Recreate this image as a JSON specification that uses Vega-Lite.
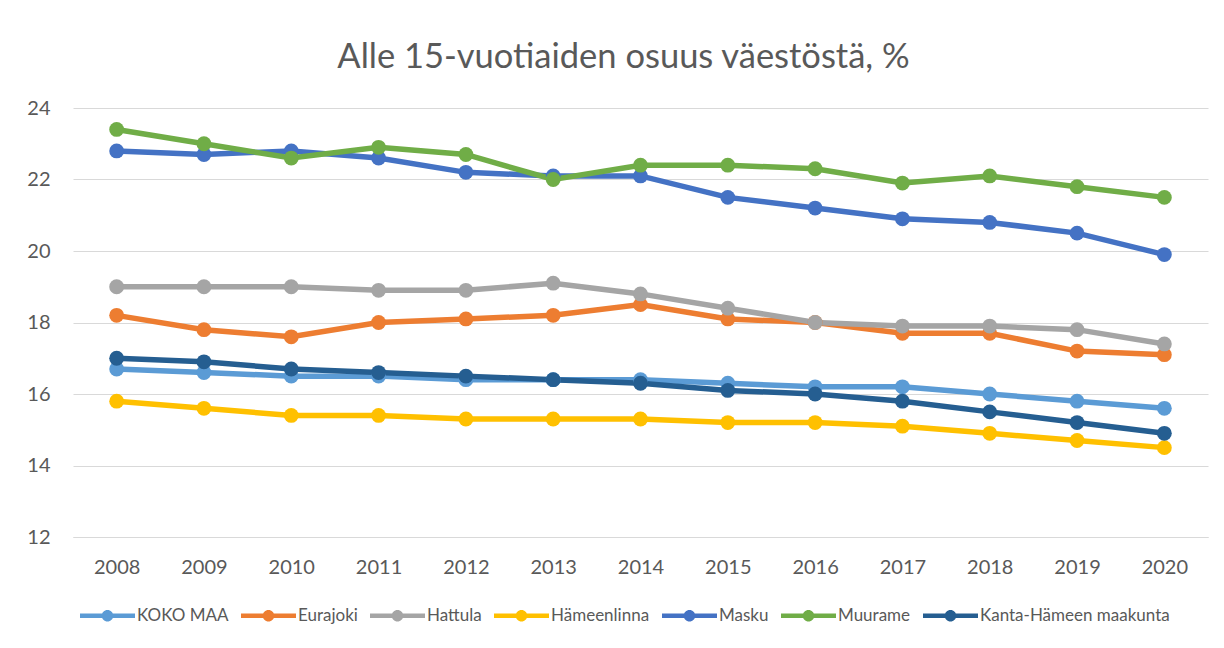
{
  "$schema": "https://vega.github.io/schema/vega-lite/v6.json",
  "autosize": "none",
  "width": 1135,
  "height": 429,
  "padding": {"left": 73, "top": 108, "right": 16, "bottom": 111},
  "background": "white",
  "config": {"view": {"stroke": null}},
  "title": {
    "text": "Alle 15-vuotiaiden osuus väestöstä, %",
    "font": "Lato",
    "fontSize": 34.5,
    "fontWeight": "normal",
    "color": "#595959",
    "anchor": "middle",
    "dx": -17,
    "offset": 23
  },
  "data": {
    "values": [
      {"sarja": "KOKO MAA", "vuosi": "2008", "arvo": 16.7},
      {"sarja": "KOKO MAA", "vuosi": "2009", "arvo": 16.6},
      {"sarja": "KOKO MAA", "vuosi": "2010", "arvo": 16.5},
      {"sarja": "KOKO MAA", "vuosi": "2011", "arvo": 16.5},
      {"sarja": "KOKO MAA", "vuosi": "2012", "arvo": 16.4},
      {"sarja": "KOKO MAA", "vuosi": "2013", "arvo": 16.4},
      {"sarja": "KOKO MAA", "vuosi": "2014", "arvo": 16.4},
      {"sarja": "KOKO MAA", "vuosi": "2015", "arvo": 16.3},
      {"sarja": "KOKO MAA", "vuosi": "2016", "arvo": 16.2},
      {"sarja": "KOKO MAA", "vuosi": "2017", "arvo": 16.2},
      {"sarja": "KOKO MAA", "vuosi": "2018", "arvo": 16.0},
      {"sarja": "KOKO MAA", "vuosi": "2019", "arvo": 15.8},
      {"sarja": "KOKO MAA", "vuosi": "2020", "arvo": 15.6},
      {"sarja": "Eurajoki", "vuosi": "2008", "arvo": 18.2},
      {"sarja": "Eurajoki", "vuosi": "2009", "arvo": 17.8},
      {"sarja": "Eurajoki", "vuosi": "2010", "arvo": 17.6},
      {"sarja": "Eurajoki", "vuosi": "2011", "arvo": 18.0},
      {"sarja": "Eurajoki", "vuosi": "2012", "arvo": 18.1},
      {"sarja": "Eurajoki", "vuosi": "2013", "arvo": 18.2},
      {"sarja": "Eurajoki", "vuosi": "2014", "arvo": 18.5},
      {"sarja": "Eurajoki", "vuosi": "2015", "arvo": 18.1},
      {"sarja": "Eurajoki", "vuosi": "2016", "arvo": 18.0},
      {"sarja": "Eurajoki", "vuosi": "2017", "arvo": 17.7},
      {"sarja": "Eurajoki", "vuosi": "2018", "arvo": 17.7},
      {"sarja": "Eurajoki", "vuosi": "2019", "arvo": 17.2},
      {"sarja": "Eurajoki", "vuosi": "2020", "arvo": 17.1},
      {"sarja": "Hattula", "vuosi": "2008", "arvo": 19.0},
      {"sarja": "Hattula", "vuosi": "2009", "arvo": 19.0},
      {"sarja": "Hattula", "vuosi": "2010", "arvo": 19.0},
      {"sarja": "Hattula", "vuosi": "2011", "arvo": 18.9},
      {"sarja": "Hattula", "vuosi": "2012", "arvo": 18.9},
      {"sarja": "Hattula", "vuosi": "2013", "arvo": 19.1},
      {"sarja": "Hattula", "vuosi": "2014", "arvo": 18.8},
      {"sarja": "Hattula", "vuosi": "2015", "arvo": 18.4},
      {"sarja": "Hattula", "vuosi": "2016", "arvo": 18.0},
      {"sarja": "Hattula", "vuosi": "2017", "arvo": 17.9},
      {"sarja": "Hattula", "vuosi": "2018", "arvo": 17.9},
      {"sarja": "Hattula", "vuosi": "2019", "arvo": 17.8},
      {"sarja": "Hattula", "vuosi": "2020", "arvo": 17.4},
      {"sarja": "Hämeenlinna", "vuosi": "2008", "arvo": 15.8},
      {"sarja": "Hämeenlinna", "vuosi": "2009", "arvo": 15.6},
      {"sarja": "Hämeenlinna", "vuosi": "2010", "arvo": 15.4},
      {"sarja": "Hämeenlinna", "vuosi": "2011", "arvo": 15.4},
      {"sarja": "Hämeenlinna", "vuosi": "2012", "arvo": 15.3},
      {"sarja": "Hämeenlinna", "vuosi": "2013", "arvo": 15.3},
      {"sarja": "Hämeenlinna", "vuosi": "2014", "arvo": 15.3},
      {"sarja": "Hämeenlinna", "vuosi": "2015", "arvo": 15.2},
      {"sarja": "Hämeenlinna", "vuosi": "2016", "arvo": 15.2},
      {"sarja": "Hämeenlinna", "vuosi": "2017", "arvo": 15.1},
      {"sarja": "Hämeenlinna", "vuosi": "2018", "arvo": 14.9},
      {"sarja": "Hämeenlinna", "vuosi": "2019", "arvo": 14.7},
      {"sarja": "Hämeenlinna", "vuosi": "2020", "arvo": 14.5},
      {"sarja": "Masku", "vuosi": "2008", "arvo": 22.8},
      {"sarja": "Masku", "vuosi": "2009", "arvo": 22.7},
      {"sarja": "Masku", "vuosi": "2010", "arvo": 22.8},
      {"sarja": "Masku", "vuosi": "2011", "arvo": 22.6},
      {"sarja": "Masku", "vuosi": "2012", "arvo": 22.2},
      {"sarja": "Masku", "vuosi": "2013", "arvo": 22.1},
      {"sarja": "Masku", "vuosi": "2014", "arvo": 22.1},
      {"sarja": "Masku", "vuosi": "2015", "arvo": 21.5},
      {"sarja": "Masku", "vuosi": "2016", "arvo": 21.2},
      {"sarja": "Masku", "vuosi": "2017", "arvo": 20.9},
      {"sarja": "Masku", "vuosi": "2018", "arvo": 20.8},
      {"sarja": "Masku", "vuosi": "2019", "arvo": 20.5},
      {"sarja": "Masku", "vuosi": "2020", "arvo": 19.9},
      {"sarja": "Muurame", "vuosi": "2008", "arvo": 23.4},
      {"sarja": "Muurame", "vuosi": "2009", "arvo": 23.0},
      {"sarja": "Muurame", "vuosi": "2010", "arvo": 22.6},
      {"sarja": "Muurame", "vuosi": "2011", "arvo": 22.9},
      {"sarja": "Muurame", "vuosi": "2012", "arvo": 22.7},
      {"sarja": "Muurame", "vuosi": "2013", "arvo": 22.0},
      {"sarja": "Muurame", "vuosi": "2014", "arvo": 22.4},
      {"sarja": "Muurame", "vuosi": "2015", "arvo": 22.4},
      {"sarja": "Muurame", "vuosi": "2016", "arvo": 22.3},
      {"sarja": "Muurame", "vuosi": "2017", "arvo": 21.9},
      {"sarja": "Muurame", "vuosi": "2018", "arvo": 22.1},
      {"sarja": "Muurame", "vuosi": "2019", "arvo": 21.8},
      {"sarja": "Muurame", "vuosi": "2020", "arvo": 21.5},
      {"sarja": "Kanta-Hämeen maakunta", "vuosi": "2008", "arvo": 17.0},
      {"sarja": "Kanta-Hämeen maakunta", "vuosi": "2009", "arvo": 16.9},
      {"sarja": "Kanta-Hämeen maakunta", "vuosi": "2010", "arvo": 16.7},
      {"sarja": "Kanta-Hämeen maakunta", "vuosi": "2011", "arvo": 16.6},
      {"sarja": "Kanta-Hämeen maakunta", "vuosi": "2012", "arvo": 16.5},
      {"sarja": "Kanta-Hämeen maakunta", "vuosi": "2013", "arvo": 16.4},
      {"sarja": "Kanta-Hämeen maakunta", "vuosi": "2014", "arvo": 16.3},
      {"sarja": "Kanta-Hämeen maakunta", "vuosi": "2015", "arvo": 16.1},
      {"sarja": "Kanta-Hämeen maakunta", "vuosi": "2016", "arvo": 16.0},
      {"sarja": "Kanta-Hämeen maakunta", "vuosi": "2017", "arvo": 15.8},
      {"sarja": "Kanta-Hämeen maakunta", "vuosi": "2018", "arvo": 15.5},
      {"sarja": "Kanta-Hämeen maakunta", "vuosi": "2019", "arvo": 15.2},
      {"sarja": "Kanta-Hämeen maakunta", "vuosi": "2020", "arvo": 14.9}
    ]
  },
  "encoding": {
    "x": {
      "field": "vuosi",
      "type": "ordinal",
      "scale": {"type": "point", "padding": 0.5},
      "axis": {
        "title": null,
        "labelAngle": 0,
        "ticks": false,
        "domain": true,
        "domainColor": "#D9D9D9",
        "domainWidth": 1,
        "grid": false,
        "labelFont": "Lato",
        "labelFontSize": 20,
        "labelColor": "#595959",
        "labelPadding": 20
      }
    },
    "y": {
      "field": "arvo",
      "type": "quantitative",
      "scale": {"domain": [12, 24], "nice": false, "zero": false},
      "axis": {
        "title": null,
        "values": [12, 14, 16, 18, 20, 22, 24],
        "ticks": false,
        "domain": false,
        "grid": true,
        "gridColor": "#D9D9D9",
        "gridWidth": 1,
        "labelFont": "Lato",
        "labelFontSize": 20,
        "labelColor": "#595959",
        "labelPadding": 23
      }
    },
    "color": {
      "field": "sarja",
      "type": "nominal",
      "sort": null,
      "scale": {
        "domain": ["KOKO MAA", "Eurajoki", "Hattula", "Hämeenlinna", "Masku", "Muurame", "Kanta-Hämeen maakunta"],
        "range": ["#5B9BD5", "#ED7D31", "#A5A5A5", "#FFC000", "#4472C4", "#70AD47", "#255E91"]
      },
      "legend": {
        "title": null,
        "orient": "none",
        "direction": "horizontal",
        "legendX": 7,
        "legendY": 480,
        "symbolType": "M-1,-0.084L1,-0.084L1,0.084L-1,0.084Z M-0.21,0A0.21,0.21 0 1,1 0.21,0A0.21,0.21 0 1,1 -0.21,0Z",
        "symbolSize": 3025,
        "symbolStrokeWidth": 0,
        "symbolOpacity": 1,
        "labelFont": "Lato",
        "labelFontSize": 17,
        "labelColor": "#595959",
        "labelOffset": 2,
        "columnPadding": 12,
        "labelLimit": 300
      }
    }
  },
  "layer": [
    {
      "mark": {"type": "line", "strokeWidth": 5.5}
    },
    {
      "mark": {"type": "point", "filled": true, "size": 220, "opacity": 1}
    }
  ]
}
